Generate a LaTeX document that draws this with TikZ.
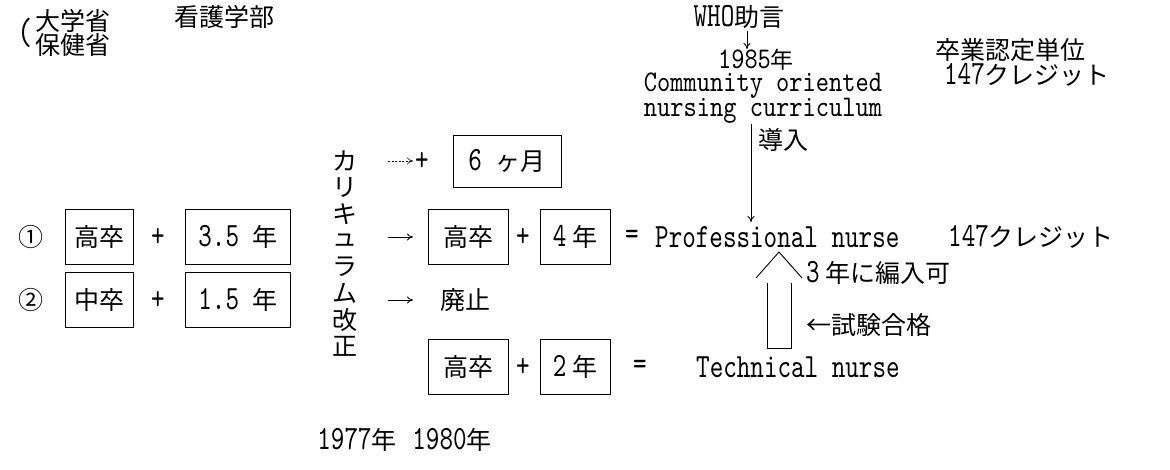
\documentclass[tikz,border=0pt]{standalone}
\usepackage{fontspec}
\usetikzlibrary{arrows.meta}
\newfontfamily\jp{Noto Sans CJK JP}
\newfontfamily\mono{lmmono10-regular.otf}[FakeStretch=0.76]
\newfontfamily\monow{lmmono10-regular.otf}[FakeStretch=0.84]
\newcommand{\J}{\jp\fontsize{25}{25}\selectfont}
\newcommand{\M}{\mono\fontsize{34}{34}\selectfont}
\tikzset{
  every node/.style={inner sep=0pt, font=\J},
  bx/.style={draw, line width=0.9pt, minimum height=55pt, inner sep=0pt},
  arr/.style={-{To[length=6pt,width=7pt]}, line width=0.8pt},
  ln/.style={line width=0.9pt},
  cu/.style={font=\monow\fontsize{30}{30}\selectfont},
}
\begin{document}
\begin{tikzpicture}[x=1pt,y=-1pt]
\fill[white] (0,0) rectangle (1170,470);
\useasboundingbox (0,0) rectangle (1170,470);
% top labels
\node (paren) at (25,33) {\mono\fontsize{38}{38}\selectfont(};
\node[anchor=west, align=left, font=\jp\fontsize{25}{23}\selectfont] (min) at (35,33) {大学省\\保健省};
\node (kango) at (224,17) {看護学部};
\node (who) at (739,17) {{\M WHO}助言};
\node (y85) at (756,60) {{\monow\fontsize{30}{30}\selectfont 1985}{\jp\fontsize{23}{23}\selectfont 年}};
\node[cu] (co) at (763,86) {Community oriented};
\node[cu] (nc) at (763,111) {nursing curriculum};
\node (sotsu) at (1010,50) {卒業認定単位};
\node (cr0) at (1027,75) {{\M 147}クレジット};
% vertical text
\foreach \c [count=\i] in {カ,リ,キ,ュ,ラ,ム,改,正}
  \node (v\i) at (345,{161+26.5*(\i-1)}) {\c};
% row 0
\coordinate (a0s) at (388,161);
\coordinate (a0e) at (413,161);
\draw[arr, line width=0.6pt, dash pattern=on 2pt off 1.5pt] (a0s) -- (a0e);
\node (p0) at (422,161) {\M +};
\node[bx, minimum width=108pt, minimum height=52pt] (m6) at (507,161) {{\M 6 }ヶ月};
% row 1
\node (c1) at (31,237) {①};
\node[bx, minimum width=68pt] (b11) at (99,237) {高卒};
\node (p11) at (158,237) {\M +};
\node[bx, minimum width=105pt] (b12) at (238,237) {{\M 3.5 }年};
\coordinate (a1s) at (388,237);
\coordinate (a1e) at (413,237);
\draw[arr] (a1s) -- (a1e);
\node[bx, minimum width=80pt] (b13) at (468,237) {高卒};
\node (p12) at (523,237) {\M +};
\node[bx, minimum width=70pt] (b14) at (575,237) {{\M 4} 年};
\node (eq1) at (632,237) {\M =};
\node[anchor=west] (pn) at (655,237) {\M Professional nurse};
\node[anchor=west] (cr1) at (948,237) {{\M 147}クレジット};
% row 2
\node (c2) at (31,300) {②};
\node[bx, minimum width=68pt] (b21) at (99,300) {中卒};
\node (p21) at (158,300) {\M +};
\node[bx, minimum width=105pt] (b22) at (238,300) {{\M 1.5 }年};
\coordinate (a2s) at (388,300);
\coordinate (a2e) at (413,300);
\draw[arr] (a2s) -- (a2e);
\node (haishi) at (465,300) {廃止};
% row 3
\node[bx, minimum width=80pt] (b31) at (468,367) {高卒};
\node (p31) at (523,367) {\M +};
\node[bx, minimum width=70pt] (b32) at (575,367) {{\M 2} 年};
\node (eq3) at (640,367) {\M =};
\node[anchor=west] (tn) at (696,367) {\M Technical nurse};
% years
\node (y77) at (357,440) {{\M 1977}年};
\node (y80) at (452,440) {{\M 1980}年};
% WHO arrow
\coordinate (wt) at (747,31);
\coordinate (wb) at (747,49);
\draw[arr] (wt) -- (wb);
% donyu arrow
\coordinate (dtop) at (751,124);
\coordinate (dbot) at (751,222);
\draw[arr] (dtop) -- (dbot);
\node[anchor=west] (donyu) at (758,140) {導入};
% hollow up arrow
\coordinate (apex) at (779,252);
\coordinate (chl) at (756,278);
\coordinate (chr) at (802,278);
\coordinate (lt) at (767,283);
\coordinate (rt) at (791,283);
\coordinate (lb) at (767,348);
\coordinate (rb) at (791,348);
\draw[ln] (chl) -- (apex) -- (chr);
\draw[ln] (lt) -- (lb) -- (rb) -- (rt);
\node[anchor=west] (hennyu) at (806,273) {{\M 3} 年に編入可};
\node[anchor=west] (shiken) at (806,325) {←試験合格};
\end{tikzpicture}
\end{document}
